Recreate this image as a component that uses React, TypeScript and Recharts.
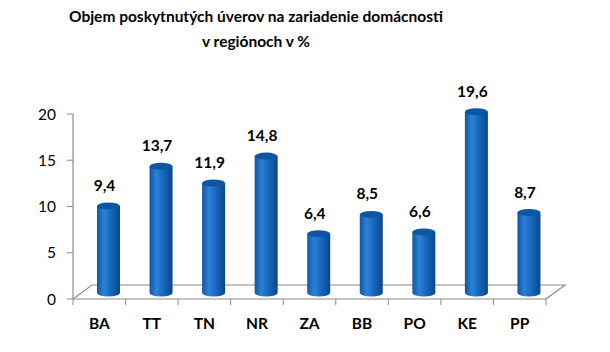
import { Bar, BarChart, LabelList, XAxis, YAxis } from "recharts"

const regions = ["BA", "TT", "TN", "NR", "ZA", "BB", "PO", "KE", "PP"]
const shares = [9.4, 13.7, 11.9, 14.8, 6.4, 8.5, 6.6, 19.6, 8.7]
const yTicks = [0, 5, 10, 15, 20]

const data = regions.map((region, i) => ({ region, share: shares[i] }))

const FONT = "Lato, 'Open Sans', sans-serif"
const AXIS = "#8c8c8c"
// 3d depth of the floor / bars
const DEPTH_X = 19
const DEPTH_Y = 14
const PLOT = { left: 73, right: 546, top: 114, bottom: 299 }

function Cylinder(props: any) {
  const { x, y, width, height } = props
  const dx = 9
  const dy = -6
  const cx = x + dx
  const top = y + dy
  const bottom = y + height + dy
  const ry = 3.5
  const rx = width / 2
  return (
    <g>
      <path
        d={`M${cx},${top} L${cx},${bottom} A${rx},${ry} 0 0 0 ${cx + width},${bottom} L${cx + width},${top} Z`}
        fill="url(#cyl)"
      />
      <ellipse cx={cx + rx} cy={top} rx={rx} ry={ry} fill="#0c57a4" />
    </g>
  )
}

function RegionTick(props: any) {
  const { x, y, payload, index } = props
  const band = (PLOT.right - PLOT.left) / regions.length
  return (
    <g>
      <line x1={x - band / 2} y1={PLOT.bottom} x2={x - band / 2} y2={PLOT.bottom + 6} stroke={AXIS} />
      {index === regions.length - 1 && (
        <line x1={x + band / 2} y1={PLOT.bottom} x2={x + band / 2} y2={PLOT.bottom + 6} stroke={AXIS} />
      )}
      <text x={x} y={y + 22} textAnchor="middle" fontFamily={FONT} fontWeight="bold" fontSize={15.5} fill="#000">
        {payload.value}
      </text>
    </g>
  )
}

export default function App() {
  return (
    <div style={{ position: "absolute", left: 0, top: 0, width: 610, height: 352, background: "#fff" }}>
      <div
        style={{
          position: "absolute",
          left: 0,
          top: 4,
          width: 512,
          textAlign: "center",
          fontFamily: FONT,
          fontWeight: "bold",
          fontSize: 15.5,
          lineHeight: "25px",
        }}
      >
        Objem poskytnutých úverov na zariadenie domácnosti
        <br />v regiónoch v %
      </div>
      <svg width={610} height={352} style={{ position: "absolute", left: 0, top: 0 }}>
        {/* floor of the 3d plot */}
        <polyline
          points={`${PLOT.left},${PLOT.bottom} ${PLOT.left + DEPTH_X},${PLOT.bottom - DEPTH_Y} ${PLOT.right + DEPTH_X},${PLOT.bottom - DEPTH_Y} ${PLOT.right},${PLOT.bottom}`}
          fill="none"
          stroke={AXIS}
          strokeWidth={1.2}
        />
      </svg>
      <div style={{ position: "absolute", left: 0, top: 0 }}>
        <BarChart
          width={610}
          height={352}
          data={data}
          barSize={23}
          margin={{ top: PLOT.top, right: 610 - PLOT.right, bottom: 352 - PLOT.bottom - 30, left: PLOT.left - 40 }}
        >
          <defs>
            <linearGradient id="cyl" x1="0" y1="0" x2="1" y2="0">
              <stop offset="0" stopColor="#0d58a6" />
              <stop offset="0.3" stopColor="#2b82d6" />
              <stop offset="0.55" stopColor="#1a6cc2" />
              <stop offset="1" stopColor="#0a4688" />
            </linearGradient>
          </defs>
          <XAxis
            dataKey="region"
            height={30}
            axisLine={{ stroke: AXIS, strokeWidth: 1.2 }}
            tickLine={false}
            interval={0}
            tick={<RegionTick />}
          />
          <YAxis
            width={40}
            domain={[0, 20]}
            ticks={yTicks}
            axisLine={{ stroke: AXIS, strokeWidth: 1.2 }}
            tickLine={{ stroke: AXIS }}
            tickSize={6}
            tickMargin={11}
            tick={{ fill: "#000", fontSize: 15.5, fontFamily: FONT }}
          />
          <Bar dataKey="share" shape={<Cylinder />} isAnimationActive={false}>
            <LabelList
              dataKey="share"
              position="top"
              offset={21}
              dx={5}
              formatter={(v: any) => String(v).replace(".", ",")}
              style={{ fill: "#000", fontSize: 15.5, fontWeight: "bold", fontFamily: FONT }}
            />
          </Bar>
        </BarChart>
      </div>
    </div>
  )
}
